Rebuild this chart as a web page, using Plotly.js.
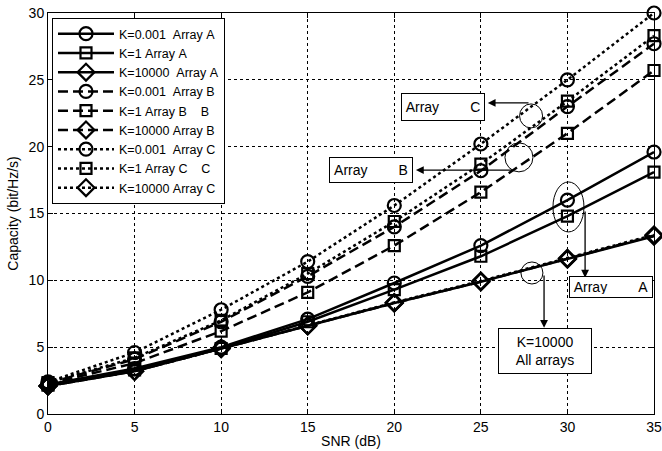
<!DOCTYPE html>
<html>
<head>
<meta charset="utf-8">
<script src="https://cdn.plot.ly/plotly-3.0.1.min.js"></script>
<style>
  html, body { margin: 0; padding: 0; background: #fff; }
  #chart { width: 662px; height: 451px; }
</style>
</head>
<body>
<div id="chart"></div>
<script>
// SNR grid (dB)
const snr = [0, 5, 10, 15, 20, 25, 30, 35];

// Capacity (bit/Hz/s) per array and Rician K-factor
const capA_K0001  = [2.2, 3.4, 5.0, 7.1, 9.8, 12.6, 16.0, 19.6];
const capA_K1     = [2.15, 3.3, 4.9, 6.9, 9.3, 11.8, 14.8, 18.1];
const capA_K10000 = [2.1, 3.2, 4.9, 6.6, 8.3, 9.9, 11.6, 13.3];
const capB_K0001  = [2.3, 4.1, 6.9, 10.3, 14.0, 18.2, 23.0, 27.7];
const capB_K1     = [2.25, 3.8, 6.2, 9.1, 12.6, 16.6, 21.0, 25.7];
const capB_K10000 = [2.1, 3.2, 4.9, 6.6, 8.3, 9.9, 11.6, 13.35];
const capC_K0001  = [2.4, 4.6, 7.8, 11.4, 15.6, 20.2, 25.0, 30.0];
const capC_K1     = [2.35, 4.2, 7.0, 10.5, 14.4, 18.7, 23.4, 28.3];
const capC_K10000 = [2.1, 3.2, 4.9, 6.6, 8.35, 9.95, 11.65, 13.4];

const seriesNames = [
  'K=0.001\u00a0\u00a0Array\u00a0A',
  'K=1\u00a0Array\u00a0A',
  'K=10000\u00a0\u00a0Array\u00a0A',
  'K=0.001\u00a0\u00a0Array\u00a0B',
  'K=1\u00a0Array\u00a0B\u00a0\u00a0\u00a0\u00a0B',
  'K=10000\u00a0Array\u00a0B',
  'K=0.001\u00a0\u00a0Array\u00a0C',
  'K=1\u00a0Array\u00a0C\u00a0\u00a0\u00a0\u00a0C',
  'K=10000\u00a0Array\u00a0C'
];
const seriesData = [capA_K0001, capA_K1, capA_K10000,
                    capB_K0001, capB_K1, capB_K10000,
                    capC_K0001, capC_K1, capC_K10000];

// line style per array, marker per K
const dashes = ['solid', '10px,5px', 'dot'];
const symbols = ['circle-open', 'square-open', 'diamond-open'];
const symSizes = [13, 11, 13];

const traces = seriesData.map((ys, i) => {
  const arr = Math.floor(i / 3), k = i % 3;
  return {
    x: snr, y: ys, name: seriesNames[i],
    type: 'scatter', mode: 'lines+markers', cliponaxis: false,
    line: { color: 'black', width: 2.5, dash: dashes[arr] },
    marker: { symbol: symbols[k], size: symSizes[k], color: 'black',
              line: { color: 'black', width: 2.2 } }
  };
});

const txtFont = { family: 'Liberation Sans, Arial, sans-serif', size: 14, color: 'black' };
const nb = n => '\u00a0'.repeat(n);

// callout circles (pixel-sized, anchored on data coordinates)
function ring(cx, cy, rx, ry) {
  return { type: 'circle', xref: 'x', yref: 'y', xsizemode: 'pixel', ysizemode: 'pixel',
           xanchor: cx, yanchor: cy, x0: -rx, x1: rx, y0: -ry, y1: ry,
           line: { color: 'black', width: 1 } };
}
function arrow(x0, y0, x1, y1) {
  return { x: x1, y: y1, ax: x0, ay: y0, xref: 'x', yref: 'y', axref: 'x', ayref: 'y',
           text: '', showarrow: true, arrowhead: 2, arrowsize: 1.2, arrowwidth: 1.3,
           arrowcolor: 'black' };
}
function label(x, y, text, w, h) {
  return { x: x, y: y, xref: 'x', yref: 'y', text: text, showarrow: false,
           font: txtFont, bgcolor: 'white', bordercolor: 'black', borderwidth: 1,
           borderpad: 3, width: w, height: h, align: 'center' };
}

const layout = {
  width: 662, height: 451,
  margin: { l: 48, r: 8, t: 13, b: 37 },
  paper_bgcolor: 'white', plot_bgcolor: 'white',
  font: txtFont,
  xaxis: {
    range: [0, 35], dtick: 5, tick0: 0,
    ticks: 'inside', ticklen: 5, tickcolor: 'black',
    showline: true, mirror: 'ticks', linecolor: 'black', linewidth: 1,
    showgrid: true, gridcolor: 'black', gridwidth: 1, griddash: 'dot',
    zeroline: false, tickfont: txtFont,
    title: { text: 'SNR (dB)', font: txtFont, standoff: 2 }
  },
  yaxis: {
    range: [0, 30], dtick: 5, tick0: 0,
    ticks: 'inside', ticklen: 5, tickcolor: 'black',
    showline: true, mirror: 'ticks', linecolor: 'black', linewidth: 1,
    showgrid: true, gridcolor: 'black', gridwidth: 1, griddash: 'dot',
    zeroline: false, tickfont: txtFont,
    title: { text: 'Capacity (bit/Hz/s)', font: txtFont, standoff: 6 }
  },
  legend: {
    x: 0.0066, y: 0.9875, xanchor: 'left', yanchor: 'top',
    bgcolor: 'white', bordercolor: 'black', borderwidth: 1,
    itemwidth: 56,
    font: { family: 'Liberation Sans, Arial, sans-serif', size: 12.5, color: 'black' }
  },
  shapes: [
    ring(27.9, 22.3, 11.5, 12),
    ring(27.2, 19.2, 14, 14.5),
    ring(30.06, 15.49, 15.5, 25),
    ring(27.95, 10.55, 11, 11)
  ],
  annotations: [
    arrow(27.84, 23.27, 25.4, 23.27),
    arrow(26.86, 18.25, 21.25, 18.25),
    arrow(31.02, 15.26, 31.02, 10.2),
    arrow(28.65, 10.47, 28.65, 6.45),
    label(22.79, 23.0, 'Array' + nb(8) + 'C', 76, 20),
    label(18.65, 18.29, 'Array' + nb(8) + 'B', 76, 18),
    label(32.52, 9.5, 'Array' + nb(8) + 'A', 76, 14),
    label(28.73, 4.75, 'K=10000<br>All arrays', 86, 38)
  ]
};

Plotly.newPlot('chart', traces, layout, { displayModeBar: false, staticPlot: true });
</script>
</body>
</html>
